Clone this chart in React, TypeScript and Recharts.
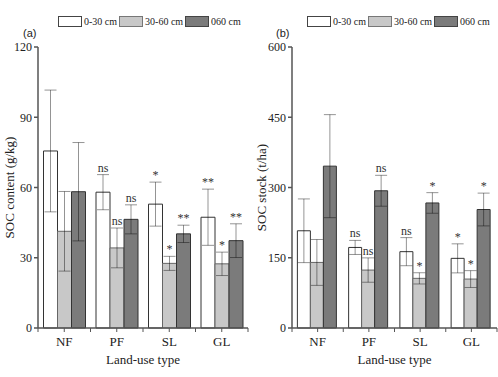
import React from "react";
import { BarChart, Bar, XAxis, YAxis, ErrorBar, LabelList } from "recharts";

const landUse = ["NF", "PF", "SL", "GL"];
const depthNames = ["0-30 cm", "30-60 cm", "060 cm"];

// (a) SOC content, g/kg
const contentTop = [75.6, 58.0, 52.9, 47.3];
const contentTopErr = [26, 7.5, 9.4, 12];
const contentMid = [41.3, 34.2, 27.6, 27.4];
const contentMidErr = [17, 8.5, 3, 5];
const contentDeep = [58.2, 46.4, 40.2, 37.3];
const contentDeepErr = [21, 6.2, 3.7, 7.2];
const contentTopSig = ["", "ns", "*", "**"];
const contentMidSig = ["", "ns", "*", "*"];
const contentDeepSig = ["", "ns", "**", "**"];
const contentTicks = [0, 30, 60, 90, 120];

// (b) SOC stock, t/ha
const stockTop = [207.6, 172, 163, 148.7];
const stockTopErr = [68, 15, 30, 31];
const stockMid = [140, 123.7, 106, 104.5];
const stockMidErr = [49, 26, 12, 18];
const stockDeep = [345.6, 293, 267, 253];
const stockDeepErr = [110, 33, 22, 35];
const stockTopSig = ["", "ns", "ns", "*"];
const stockMidSig = ["", "ns", "*", "*"];
const stockDeepSig = ["", "ns", "*", "*"];
const stockTicks = [0, 150, 300, 450, 600];

const SERIF = '"Liberation Serif", "DejaVu Serif", serif';
const SANS = '"Liberation Sans", Arial, sans-serif';
const AXIS = "#555";
const fills = ["#ffffff", "#c8c8c8", "#7b7b7b"];
const strokes = ["#333", "#666", "#333"];

function buildRows(vals: number[][], errs: number[][], sigs: string[][]) {
  return landUse.map((name, i) => ({
    name,
    v0: vals[0][i], v1: vals[1][i], v2: vals[2][i],
    e0: errs[0][i], e1: errs[1][i], e2: errs[2][i],
    s0: sigs[0][i], s1: sigs[1][i], s2: sigs[2][i],
  }));
}

function sigLabel(vals: number[], errs: number[]) {
  return (p: any) => {
    const { x, y, width, height, value, index } = p;
    if (!value) return null;
    const pxPerUnit = height / vals[index];
    const top = y - errs[index] * pxPerUnit;
    return (
      <text
        x={x + width / 2}
        y={top - 3}
        textAnchor="middle"
        fontFamily={SERIF}
        fontSize={12}
        fill="#333"
      >
        {value}
      </text>
    );
  };
}

function XTick(p: any) {
  const { x, y, payload, index, width } = p;
  const half = width / landUse.length / 2;
  return (
    <g>
      <line x1={x} x2={x} y1={y} y2={y + 4} stroke={AXIS} />
      <line x1={x + half} x2={x + half} y1={y} y2={y + 4} stroke={AXIS} />
      {index === 0 && <line x1={x - half} x2={x - half} y1={y} y2={y + 4} stroke={AXIS} />}
      <text x={x} y={y + 18} textAnchor="middle" fontFamily={SERIF} fontSize={13} fill="#222">
        {payload.value}
      </text>
    </g>
  );
}

function LegendBox() {
  return (
    <div
      style={{
        display: "flex",
        alignItems: "center",
        whiteSpace: "nowrap",
        fontFamily: SERIF,
        fontSize: 10,
        color: "#222",
      }}
    >
      {depthNames.map((d, i) => (
        <div key={d} style={{ display: "flex", alignItems: "center", marginRight: 2 }}>
          <div
            style={{
              width: 22,
              height: 9,
              background: fills[i],
              border: `1px solid ${i === 1 ? "#777" : "#444"}`,
              marginRight: 2,
            }}
          />
          <span>{d}</span>
        </div>
      ))}
    </div>
  );
}

function Panel(props: {
  tag: string;
  width: number;
  yWidth: number;
  yLabel: string;
  yLabelDx: number;
  ticks: number[];
  vals: number[][];
  errs: number[][];
  sigs: string[][];
}) {
  const { tag, width, yWidth, yLabel, yLabelDx, ticks, vals, errs, sigs } = props;
  const rows = buildRows(vals, errs, sigs);
  const maxY = ticks[ticks.length - 1];
  return (
    <div style={{ position: "relative", width, height: 377 }}>
      <BarChart
        width={width}
        height={377}
        data={rows}
        margin={{ top: 47, right: 1, left: 0, bottom: 9 }}
        barGap={0}
        barCategoryGap="10.5%"
      >
        <XAxis
          dataKey="name"
          height={40}
          stroke={AXIS}
          strokeWidth={1.5}
          tickLine={false}
          tickSize={0}
          tickMargin={0}
          tick={<XTick />}
          interval={0}
          label={{
            value: "Land-use type",
            position: "insideBottom",
            offset: 4,
            style: { fontFamily: SERIF, fontSize: 13, fill: "#222" },
          }}
        />
        <YAxis
          width={yWidth}
          domain={[0, maxY]}
          ticks={ticks}
          interval={0}
          stroke={AXIS}
          strokeWidth={1.5}
          tickSize={4}
          tickMargin={2}
          tick={{ fontFamily: SERIF, fontSize: 12, fill: "#222" }}
          label={{
            value: yLabel,
            angle: -90,
            position: "center",
            dx: yLabelDx,
            style: { fontFamily: SERIF, fontSize: 13, fill: "#222", textAnchor: "middle" },
          }}
        />
        {[0, 1, 2].map((k) => (
          <Bar
            key={k}
            dataKey={`v${k}`}
            fill={fills[k]}
            stroke={strokes[k]}
            strokeWidth={1}
            isAnimationActive={false}
          >
            <ErrorBar dataKey={`e${k}`} width={6} stroke="#000" strokeOpacity={0.42} strokeWidth={1} />
            <LabelList dataKey={`s${k}`} content={sigLabel(vals[k], errs[k])} />
          </Bar>
        ))}
      </BarChart>
      <div style={{ position: "absolute", left: 58, top: 16 }}>
        <LegendBox />
      </div>
      <div
        style={{
          position: "absolute",
          left: yWidth - 15 - (tag === "(b)" ? 1 : 0),
          top: 27,
          fontFamily: SANS,
          fontSize: 11,
          color: "#222",
        }}
      >
        {tag}
      </div>
    </div>
  );
}

export default function App() {
  return (
    <div
      style={{
        position: "absolute",
        left: 0,
        top: 0,
        width: 498,
        height: 377,
        background: "#fff",
        display: "flex",
      }}
    >
      <Panel
        tag="(a)"
        width={249}
        yWidth={38}
        yLabel="SOC content (g/kg)"
        yLabelDx={-10}
        ticks={contentTicks}
        vals={[contentTop, contentMid, contentDeep]}
        errs={[contentTopErr, contentMidErr, contentDeepErr]}
        sigs={[contentTopSig, contentMidSig, contentDeepSig]}
      />
      <Panel
        tag="(b)"
        width={249}
        yWidth={43}
        yLabel="SOC stock (t/ha)"
        yLabelDx={-9}
        ticks={stockTicks}
        vals={[stockTop, stockMid, stockDeep]}
        errs={[stockTopErr, stockMidErr, stockDeepErr]}
        sigs={[stockTopSig, stockMidSig, stockDeepSig]}
      />
    </div>
  );
}
